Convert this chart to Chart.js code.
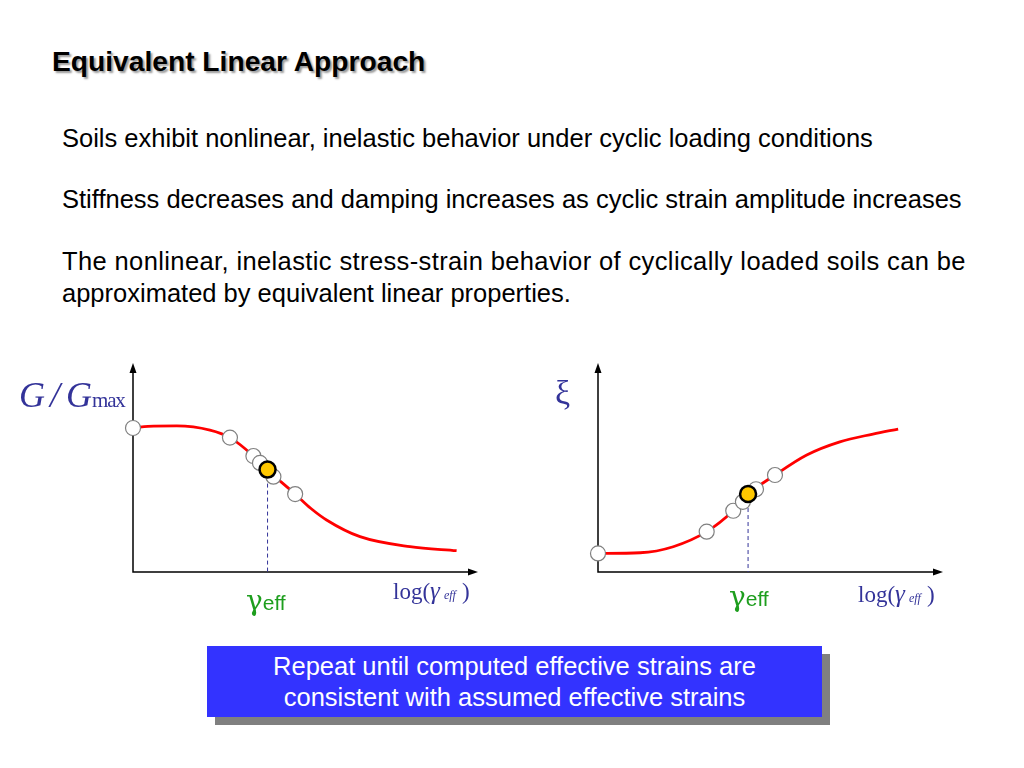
<!DOCTYPE html>
<html>
<head>
<meta charset="utf-8">
<script src="https://cdn.jsdelivr.net/npm/chart.js@4.4.0/dist/chart.umd.min.js"></script>
<style>
  html,body{margin:0;padding:0;background:#fff;}
  #page{position:relative;width:1024px;height:768px;overflow:hidden;font-family:"Liberation Sans",Arial,sans-serif;color:#000;}
  .abs{position:absolute;white-space:nowrap;}
  #title{left:52px;top:45px;font-size:28.2px;font-weight:bold;text-shadow:2px 2px 2px #999;}
  .body{font-size:25.5px;left:62px;}
  .serif{font-family:"Liberation Serif","Times New Roman",serif;color:#333399;}
  .green{color:#1e9e1e;}
  #box{left:207px;top:646px;width:615px;height:71px;background:#3333ff;box-shadow:8px 8px 0 #808080;color:#fff;font-size:25.5px;text-align:center;line-height:31px;padding-top:5px;box-sizing:border-box;}
  canvas{position:absolute;}
</style>
</head>
<body>
<div id="page">
  <div id="title" class="abs">Equivalent Linear Approach</div>
  <div class="abs body" style="top:124px;">Soils exhibit nonlinear, inelastic behavior under cyclic loading conditions</div>
  <div class="abs body" style="top:185px;">Stiffness decreases and damping increases as cyclic strain amplitude increases</div>
  <div class="abs body" style="top:247px;letter-spacing:0.38px;">The nonlinear, inelastic stress-strain behavior of cyclically loaded soils can be</div>
  <div class="abs body" style="top:279px;">approximated by equivalent linear properties.</div>

  <canvas id="c1" width="500" height="300" style="left:0px;top:340px;"></canvas>
  <canvas id="c2" width="450" height="300" style="left:520px;top:340px;"></canvas>

  <div class="abs serif" style="left:19px;top:374px;font-size:36px;font-style:italic;">G<span style="margin:0 6px 0 5px;">/</span>G<span style="font-style:normal;font-size:21px;letter-spacing:-1.2px;">max</span></div>
  <div class="abs serif" style="left:555px;top:374px;font-size:34px;">ξ</div>

  <div class="abs green" style="left:246px;top:584px;font-size:28px;font-family:'DejaVu Serif',serif;">γ<span style="font-family:'Liberation Sans',Arial,sans-serif;font-size:21px;">eff</span></div>
  <div class="abs green" style="left:729px;top:580px;font-size:28px;font-family:'DejaVu Serif',serif;">γ<span style="font-family:'Liberation Sans',Arial,sans-serif;font-size:21px;">eff</span></div>

  <div class="abs serif" style="left:393px;top:577px;font-size:23px;">log(<i style="font-size:25px;">γ</i><i style="font-size:12px;margin-left:4px;margin-right:6px;">eff</i>)</div>
  <div class="abs serif" style="left:858px;top:580px;font-size:23px;">log(<i style="font-size:25px;">γ</i><i style="font-size:12px;margin-left:4px;margin-right:6px;">eff</i>)</div>

  <div id="box" class="abs">Repeat until computed effective strains are<br>consistent with assumed effective strains</div>
</div>
<script>
// ---- Data (x: relative log strain 0..100, y: normalized ordinate 0..1) ----
const modulusCurveX = [0, 6, 12.7, 22.3, 28.1, 34.9, 38.8, 43, 47.0, 51.5, 56.1, 65.8, 80.3, 93.8];
const modulusCurveY = [0.691, 0.698, 0.699, 0.679, 0.643, 0.555, 0.488, 0.43, 0.373, 0.305, 0.249, 0.169, 0.121, 0.102];
const modulusIterX = [0, 28.1, 34.9, 36.8, 40.7, 47.0];
const modulusIterY = [0.689, 0.643, 0.555, 0.522, 0.456, 0.373];
const modulusEffX = [39.0];
const modulusEffY = [0.490];

const dampingCurveX = [0, 12.2, 21.8, 31.5, 39.2, 43.6, 51.3, 60.5, 70.1, 79.7, 87.0];
const dampingCurveY = [0.089, 0.092, 0.121, 0.193, 0.293, 0.373, 0.464, 0.560, 0.623, 0.660, 0.684];
const dampingIterX = [0, 31.5, 39.2, 42.0, 45.8, 51.3];
const dampingIterY = [0.089, 0.193, 0.293, 0.336, 0.396, 0.464];
const dampingEffX = [43.5];
const dampingEffY = [0.373];

const pts = (xs, ys) => xs.map((x, i) => ({x: x, y: ys[i]}));

const axesPlugin = {
  id: 'arrowAxes',
  beforeDatasetsDraw(chart) {
    const {ctx, chartArea: a} = chart;
    ctx.save();
    ctx.strokeStyle = '#000';
    ctx.fillStyle = '#000';
    ctx.lineWidth = 1.5;
    ctx.beginPath();
    ctx.moveTo(a.left, a.top + 6);
    ctx.lineTo(a.left, a.bottom);
    ctx.lineTo(a.right - 6, a.bottom);
    ctx.stroke();
    ctx.beginPath();
    ctx.moveTo(a.left, a.top);
    ctx.lineTo(a.left - 3.5, a.top + 10);
    ctx.lineTo(a.left + 3.5, a.top + 10);
    ctx.closePath();
    ctx.fill();
    ctx.beginPath();
    ctx.moveTo(a.right, a.bottom);
    ctx.lineTo(a.right - 10, a.bottom - 3.5);
    ctx.lineTo(a.right - 10, a.bottom + 3.5);
    ctx.closePath();
    ctx.fill();
    ctx.restore();
  }
};

function makeChart(id, curveX, curveY, iterX, iterY, effX, effY, pad) {
  const dash = [{x: effX[0], y: effY[0]}, {x: effX[0], y: 0}];
  return new Chart(document.getElementById(id), {
    type: 'line',
    data: {
      datasets: [
        {data: pts(effX, effY), showLine: false, pointRadius: 8, pointBackgroundColor: '#ffc800', pointBorderColor: '#000', pointBorderWidth: 2.5, order: 0, clip: false},
        {data: pts(iterX, iterY), showLine: false, pointRadius: 7.5, pointBackgroundColor: '#fff', pointBorderColor: '#808080', pointBorderWidth: 1.2, order: 1, clip: false},
        {data: dash, borderColor: '#333399', borderWidth: 1, borderDash: [4, 3], pointRadius: 0, order: 2, clip: false},
        {data: pts(curveX, curveY), borderColor: '#ff0000', borderWidth: 2.8, pointRadius: 0, cubicInterpolationMode: 'monotone', order: 3, clip: false}
      ]
    },
    options: {
      responsive: false,
      animation: false,
      events: [],
      layout: {padding: pad},
      plugins: {legend: {display: false}, tooltip: {enabled: false}},
      scales: {
        x: {type: 'linear', min: 0, max: 100, display: false},
        y: {type: 'linear', min: 0, max: 1, display: false}
      }
    },
    plugins: [axesPlugin]
  });
}

makeChart('c1', modulusCurveX, modulusCurveY, modulusIterX, modulusIterY, modulusEffX, modulusEffY,
  {left: 133, right: 22, top: 23, bottom: 68});
makeChart('c2', dampingCurveX, dampingCurveY, dampingIterX, dampingIterY, dampingEffX, dampingEffY,
  {left: 78, right: 27, top: 23, bottom: 68});
</script>
</body>
</html>
